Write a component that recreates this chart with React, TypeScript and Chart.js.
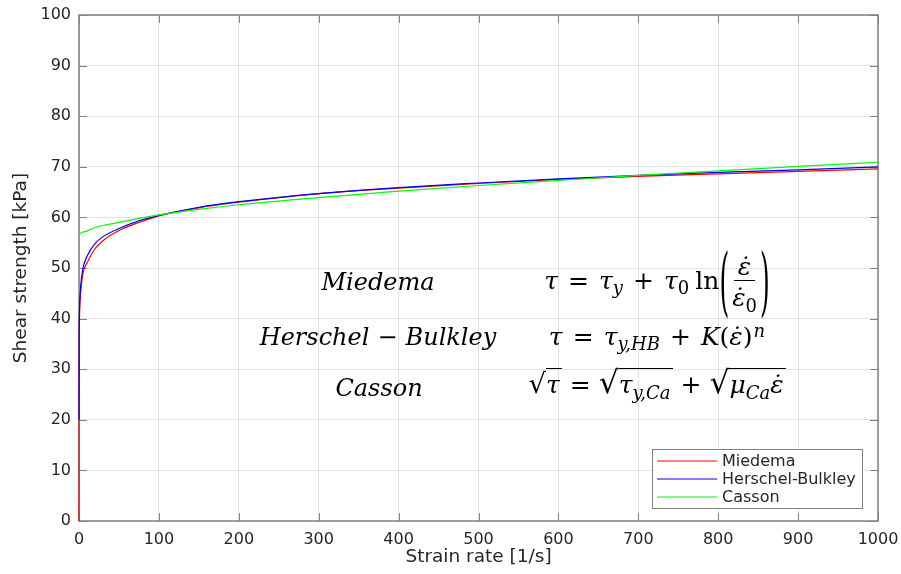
import React, { useEffect, useRef } from "react";
import { Chart, registerables } from "chart.js";

Chart.register(...registerables);

// ---- data ----
const strainRate = [0, 0.2, 0.5, 1, 2, 5, 10, 20, 30, 50, 75, 100, 150, 200, 300, 400, 500, 600, 700, 800, 900, 1000];
const miedema = [0, 36, 39.5, 42.5, 45, 49, 51, 53.8, 55.4, 57.4, 59, 60.3, 61.9, 63.0, 64.7, 65.8, 66.7, 67.5, 68.1, 68.6, 69.1, 69.6];
const herschelBulkley = [20, 36, 41, 43.5, 46.3, 50, 52.3, 54.8, 56.2, 57.8, 59.3, 60.4, 62.0, 63.1, 64.7, 65.9, 66.8, 67.6, 68.3, 68.9, 69.4, 70.0];
const casson = [56.3, 56.5, 56.6, 56.7, 56.9, 57.1, 57.3, 58.0, 58.4, 59.0, 59.8, 60.5, 61.6, 62.5, 63.9, 65.2, 66.3, 67.3, 68.3, 69.2, 70.1, 70.9];
const seriesNames = ["Miedema", "Herschel-Bulkley", "Casson"];
const seriesValues = [miedema, herschelBulkley, casson];
const seriesColors = ["#ff0000", "#0000ff", "#00ff00"];
const xTitle = "Strain rate [1/s]";
const yTitle = "Shear strength [kPa]";
const xRange = [0, 1000];
const yRange = [0, 100];
const xStep = 100;
const yStep = 10;

const sansFont = '"DejaVu Sans", sans-serif';
const serifFont = '"DejaVu Serif", serif';
const axisColor = "#808080";
const textColor = "#262626";

const boxPlugin = {
  id: "matlabBox",
  beforeDatasetsDraw(chart: any) {
    const { ctx, chartArea: a, scales } = chart;
    const xs = scales.x;
    const ys = scales.y;
    ctx.save();
    ctx.strokeStyle = axisColor;
    ctx.lineWidth = 1;
    const tl = 8;
    ctx.beginPath();
    xs.ticks.forEach((t: any) => {
      const px = Math.round(xs.getPixelForValue(t.value)) + 0.5;
      ctx.moveTo(px, a.bottom);
      ctx.lineTo(px, a.bottom - tl);
      ctx.moveTo(px, a.top);
      ctx.lineTo(px, a.top + tl);
    });
    ys.ticks.forEach((t: any) => {
      const py = Math.round(ys.getPixelForValue(t.value)) + 0.5;
      ctx.moveTo(a.left, py);
      ctx.lineTo(a.left + tl, py);
      ctx.moveTo(a.right, py);
      ctx.lineTo(a.right - tl, py);
    });
    ctx.stroke();
    ctx.lineWidth = 1.5;
    ctx.strokeRect(a.left, a.top, a.right - a.left, a.bottom - a.top);
    ctx.restore();
  },
  afterDraw(chart: any) {
    const { ctx, chartArea: a } = chart;
    const w = 210;
    const h = 59;
    const x0 = a.right - 16 - w;
    const y0 = a.bottom - 13 - h;
    ctx.save();
    ctx.fillStyle = "#ffffff";
    ctx.fillRect(x0, y0, w, h);
    ctx.strokeStyle = axisColor;
    ctx.lineWidth = 1;
    ctx.strokeRect(x0 + 0.5, y0 + 0.5, w, h);
    ctx.font = `16px ${sansFont}`;
    ctx.textBaseline = "middle";
    ctx.fillStyle = textColor;
    chart.data.datasets.forEach((ds: any, i: number) => {
      const yy = y0 + 12 + i * 18;
      ctx.strokeStyle = ds.borderColor;
      ctx.lineWidth = 1.2;
      ctx.beginPath();
      ctx.moveTo(x0 + 5, yy);
      ctx.lineTo(x0 + 65, yy);
      ctx.stroke();
      ctx.fillText(ds.label, x0 + 70, yy + 1);
    });
    ctx.restore();
  },
};

const I = ({ children }: { children: any }) => <span style={{ fontStyle: "italic" }}>{children}</span>;
const Sub = ({ children, italic = true }: { children: any; italic?: boolean }) => (
  <span style={{ fontSize: "0.72em", position: "relative", top: "0.3em", fontStyle: italic ? "italic" : "normal" }}>{children}</span>
);
const Sup = ({ children }: { children: any }) => (
  <span style={{ fontSize: "0.72em", position: "relative", top: "-0.45em", fontStyle: "italic", marginLeft: 1 }}>{children}</span>
);
const Op = ({ children, m = 10 }: { children: any; m?: number }) => <span style={{ margin: `0 ${m}px` }}>{children}</span>;
const EpsDot = () => <I>{"\u03B5\u0307"}</I>;

const Sqrt = ({ children, size = 1.25 }: { children: any; size?: number }) => (
  <span style={{ display: "inline-flex", alignItems: "baseline" }}>
    <span style={{ fontSize: `${size}em`, lineHeight: 1, fontStyle: "normal" }}>{"\u221A"}</span>
    <span style={{ borderTop: "1.5px solid #000", lineHeight: "25px", paddingTop: 3, paddingRight: 2 }}>{children}</span>
  </span>
);

const BigParen = ({ children }: { children: any }) => (
  <span style={{ display: "inline-block", transform: "scaleY(3)", fontWeight: 300, lineHeight: "25px" }}>{children}</span>
);

const wordStyle = (cx: number, baseline: number): React.CSSProperties => ({
  position: "absolute",
  left: cx - 250,
  width: 500,
  top: baseline - 20.3,
  textAlign: "center",
  whiteSpace: "nowrap",
  fontFamily: serifFont,
  fontSize: 24,
  lineHeight: "24px",
  fontStyle: "italic",
  color: "#000",
});

const eqBase: React.CSSProperties = {
  position: "absolute",
  left: 657 - 250,
  width: 500,
  whiteSpace: "nowrap",
  fontFamily: serifFont,
  fontSize: 25,
  lineHeight: "25px",
  color: "#000",
  display: "flex",
  justifyContent: "center",
};

export default function App() {
  const ref = useRef<HTMLCanvasElement>(null);

  useEffect(() => {
    const chart = new Chart(ref.current as HTMLCanvasElement, {
      type: "line",
      data: {
        datasets: seriesNames.map((name, i) => ({
          label: name,
          data: strainRate.map((x, j) => ({ x, y: seriesValues[i][j] })),
          borderColor: seriesColors[i],
          backgroundColor: seriesColors[i],
          borderWidth: 1.2,
          pointRadius: 0,
          cubicInterpolationMode: "monotone" as const,
          clip: 4,
          order: seriesNames.length - i,
        })),
      },
      options: {
        responsive: false,
        animation: false,
        devicePixelRatio: 1,
        layout: { padding: { left: 0, top: 15, right: 23, bottom: 0 } },
        plugins: { legend: { display: false }, tooltip: { enabled: false } },
        scales: {
          x: {
            type: "linear",
            min: xRange[0],
            max: xRange[1],
            border: { display: false },
            grid: { color: "#e3e3e3", drawTicks: false, lineWidth: 1 },
            ticks: {
              stepSize: xStep,
              padding: 9,
              color: textColor,
              font: { family: sansFont, size: 16 },
              maxRotation: 0,
              callback: (v: any) => String(v),
            },
            title: { display: true, text: xTitle, color: textColor, font: { family: sansFont, size: 18.5 }, padding: { top: 6, bottom: 6 } },
            afterFit: (s: any) => {
              s.height = 53;
              s.paddingLeft = 0;
              s.paddingRight = 0;
            },
          },
          y: {
            type: "linear",
            min: yRange[0],
            max: yRange[1],
            border: { display: false },
            grid: { color: "#e3e3e3", drawTicks: false, lineWidth: 1 },
            ticks: { stepSize: yStep, padding: 8, color: textColor, font: { family: sansFont, size: 16 }, callback: (v: any) => String(v) },
            title: { display: true, text: yTitle, color: textColor, font: { family: sansFont, size: 18.5 }, padding: { top: 10, bottom: 10 } },
            afterFit: (s: any) => {
              s.width = 79;
              s.paddingTop = 0;
              s.paddingBottom = 0;
            },
          },
        },
      },
      plugins: [boxPlugin],
    });
    return () => chart.destroy();
  }, []);

  return (
    <div style={{ position: "fixed", left: 0, top: 0, width: 901, height: 574, background: "#fff", overflow: "hidden" }}>
      <canvas ref={ref} width={901} height={574} style={{ position: "absolute", left: 0, top: 0, width: 901, height: 574 }} />
      <div style={wordStyle(378, 290)}>Miedema</div>
      <div style={wordStyle(378, 345)}>
        Herschel<span style={{ fontStyle: "normal", margin: "0 8px" }}>{"\u2212"}</span>Bulkley
      </div>
      <div style={wordStyle(379, 396)}>Casson</div>

      {/* Miedema equation */}
      <div style={{ ...eqBase, top: 281.4, transform: "translateY(-50%)", alignItems: "center" }}>
        <span>
          <I>τ</I>
          <Op>=</Op>
          <I>τ</I>
          <Sub>y</Sub>
          <Op>+</Op>
          <I>τ</I>
          <Sub italic={false}>0</Sub>
          <span style={{ marginLeft: 6 }}>ln</span>
        </span>
        <BigParen>(</BigParen>
        <span style={{ display: "inline-flex", flexDirection: "column", alignItems: "center", margin: "4px 1px 0" }}>
          <span style={{ borderBottom: "1.5px solid #000", padding: "0 4px 1px", lineHeight: "25px" }}>
            <EpsDot />
          </span>
          <span style={{ lineHeight: "25px", padding: "4px 2px 0" }}>
            <EpsDot />
            <Sub italic={false}>0</Sub>
          </span>
        </span>
        <BigParen>)</BigParen>
      </div>

      {/* Herschel-Bulkley equation */}
      <div style={{ ...eqBase, top: 345 - 21.15 }}>
        <span>
          <I>τ</I>
          <Op>=</Op>
          <I>τ</I>
          <Sub>y,HB</Sub>
          <Op>+</Op>
          <I>K</I>(<EpsDot />)<Sup>n</Sup>
        </span>
      </div>

      {/* Casson equation */}
      <div style={{ ...eqBase, top: 393 - 25.7, alignItems: "baseline" }}>
        <Sqrt size={1.1}>
          <I>τ</I>
        </Sqrt>
        <Op m={8}>=</Op>
        <Sqrt>
          <I>τ</I>
          <Sub>y,Ca</Sub>
        </Sqrt>
        <Op m={8}>+</Op>
        <Sqrt>
          <I>μ</I>
          <Sub>Ca</Sub>
          <EpsDot />
        </Sqrt>
      </div>
    </div>
  );
}
